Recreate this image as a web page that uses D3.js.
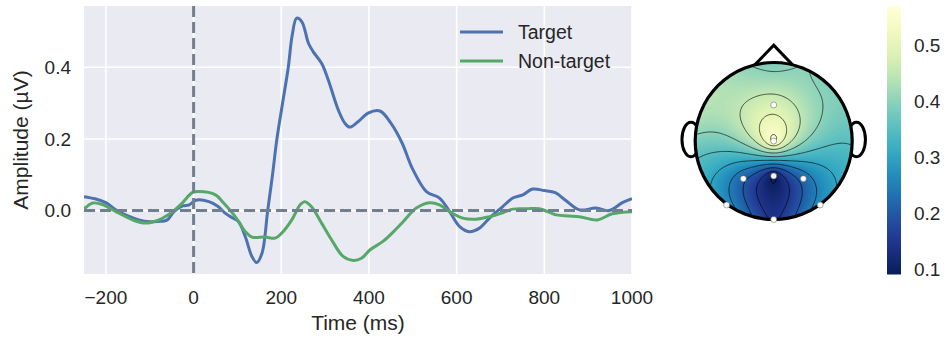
<!DOCTYPE html>
<html>
<head>
<meta charset="utf-8">
<script src="https://cdn.jsdelivr.net/npm/d3@7"></script>
<style>
  body { margin: 0; background: #fff; }
  text { font-family: "Liberation Sans", Arial, sans-serif; fill: #262626; }
</style>
</head>
<body>
<svg id="fig" width="948" height="340"></svg>
<script>
// ERP traces (ms, µV)
const targetTimes = [-250,-225,-200,-175,-150,-125,-100,-75,-60,-45,-25,-10,5,35,55,72,88,102,118,133,144,156,169,180,190,203,216,225,235,247,262,273,292,307,330,345,356,375,398,425,450,475,500,531,561,584,607,629,652,675,705,728,751,773,800,825,849,880,918,948,978,1000]
const targetValues = [0.039,0.033,0.022,0.0,-0.015,-0.026,-0.031,-0.030,-0.026,-0.003,0.013,0.016,0.029,0.025,0.012,-0.007,-0.02,-0.03,-0.073,-0.128,-0.145,-0.119,0.0,0.1,0.2,0.3,0.4,0.49,0.537,0.527,0.467,0.443,0.411,0.365,0.281,0.244,0.233,0.248,0.272,0.278,0.244,0.19,0.115,0.053,0.035,-0.003,-0.045,-0.059,-0.049,-0.021,0.011,0.035,0.044,0.06,0.056,0.05,0.028,0.002,0.007,0.0,0.022,0.033]
const nonTargetTimes = [-250,-230,-208,-177,-139,-109,-79,-48,-26,-3,12,50,67,95,118,133,163,186,201,224,243,254,269,292,315,341,364,383,402,432,455,478,508,538,561,584,614,645,675,705,728,760,789,827,855,880,921,955,1000]
const nonTargetValues = [0.004,0.021,0.017,-0.003,-0.026,-0.035,-0.026,-0.003,0.021,0.05,0.053,0.044,0.023,-0.017,-0.059,-0.074,-0.074,-0.077,-0.063,-0.026,0.016,0.025,0.011,-0.035,-0.082,-0.128,-0.139,-0.133,-0.11,-0.086,-0.06,-0.031,0.007,0.022,0.016,-0.003,-0.021,-0.024,-0.017,-0.006,0.004,0.005,0.005,-0.012,-0.015,-0.017,-0.026,-0.009,-0.003]
const seriesNames = ['Target', 'Non-target']
const xTicks = [-200, 0, 200, 400, 600, 800, 1000]
const yTicks = [0.0, 0.2, 0.4]

// topomap: channel layout (unit head circle) and amplitudes
const channelNames = ['Fz', 'Cz', 'P3', 'Pz', 'P4', 'PO7', 'Oz', 'PO8']
const channelX = [0, 0, -0.387, 0, 0.378, -0.599, 0, 0.592]
const channelY = [0.459, 0.0, -0.48, -0.446, -0.48, -0.815, -1.0, -0.815]
const channelValues = [0.48, 0.568, 0.21, 0.091, 0.22, 0.27, 0.14, 0.27]
// values read just outside the head border (degrees clockwise from nose)
const borderAngles = [0, 40, 70, 100, 125, 155, 205, 235, 260, 290, 320, 340]
const borderValues = [0.38, 0.39, 0.38, 0.34, 0.31, 0.26, 0.26, 0.31, 0.36, 0.44, 0.43, 0.40]
const colorbarTicks = [0.1, 0.2, 0.3, 0.4, 0.5]

const svg = d3.select('#fig')
const blue = '#4C72B0', green = '#55A868'

// ---------- ERP panel ----------
const x = d3.scaleLinear().domain([-250, 1000]).range([84, 632])
const y = d3.scaleLinear().domain([-0.177, 0.571]).range([274, 6])

svg.append('rect')
  .attr('x', x.range()[0]).attr('y', y.range()[1])
  .attr('width', x.range()[1] - x.range()[0])
  .attr('height', y.range()[0] - y.range()[1])
  .attr('fill', '#EAEAF2')

svg.append('defs').append('clipPath').attr('id', 'plotclip')
  .append('rect')
  .attr('x', x.range()[0]).attr('y', y.range()[1])
  .attr('width', x.range()[1] - x.range()[0])
  .attr('height', y.range()[0] - y.range()[1])

const grid = svg.append('g').attr('stroke', '#fff').attr('stroke-width', 1.6)
grid.selectAll('.vx').data(xTicks).join('line')
  .attr('x1', d => x(d)).attr('x2', d => x(d))
  .attr('y1', y.range()[1]).attr('y2', y.range()[0])
grid.selectAll('.hy').data(yTicks).join('line')
  .attr('x1', x.range()[0]).attr('x2', x.range()[1])
  .attr('y1', d => y(d)).attr('y2', d => y(d))

const fmtX = d3.format('d')
svg.append('g').selectAll('text').data(xTicks).join('text')
  .attr('x', d => x(d)).attr('y', 303.5)
  .attr('text-anchor', 'middle').style('font-size', '19px')
  .text(d => fmtX(d))
svg.append('g').selectAll('text').data(yTicks).join('text')
  .attr('x', 71).attr('y', d => y(d) + 6.8)
  .attr('text-anchor', 'end').style('font-size', '19px')
  .text(d => d.toFixed(1))

svg.append('text').attr('x', 358).attr('y', 330)
  .attr('text-anchor', 'middle').style('font-size', '21px')
  .text('Time (ms)')
svg.append('text')
  .attr('transform', 'translate(28,140) rotate(-90)')
  .attr('text-anchor', 'middle').style('font-size', '21px')
  .text('Amplitude (µV)')

const line = d3.line().x(d => x(d[0])).y(d => y(d[1])).curve(d3.curveCatmullRom.alpha(0.5))
const series = [
  { name: seriesNames[0], color: blue, pts: d3.zip(targetTimes, targetValues) },
  { name: seriesNames[1], color: green, pts: d3.zip(nonTargetTimes, nonTargetValues) }
]
svg.append('g').attr('clip-path', 'url(#plotclip)')
  .selectAll('path').data(series).join('path')
  .attr('d', d => line(d.pts))
  .attr('fill', 'none').attr('stroke', d => d.color)
  .attr('stroke-width', 3).attr('stroke-linejoin', 'round')

// dashed zero lines
const dash = svg.append('g').attr('stroke', '#708090').attr('stroke-width', 3)
  .attr('stroke-dasharray', '11,5')
dash.append('line').attr('x1', x.range()[0]).attr('x2', x.range()[1]).attr('y1', y(0)).attr('y2', y(0))
dash.append('line').attr('x1', x(0)).attr('x2', x(0)).attr('y1', y.range()[1]).attr('y2', y.range()[0])

// legend
const leg = svg.append('g').selectAll('g').data(series).join('g')
  .attr('transform', (d, i) => `translate(460,${32 + i * 29})`)
leg.append('line').attr('x1', 0).attr('x2', 43)
  .attr('stroke', d => d.color).attr('stroke-width', 3)
leg.append('text').attr('x', 58).attr('y', 7)
  .style('font-size', '19.5px').text(d => d.name)

// ---------- topomap ----------
const cx = 773.7, cy = 141, R = 78.5
const vmin = d3.min(channelValues), vmax = d3.max(channelValues)
const color = d3.scaleSequential(t => d3.interpolateYlGnBu(1 - t)).domain([vmin, vmax]).clamp(true)

// interpolation nodes: channels + border anchors
const nodes = channelX.map((cxv, i) => [cxv, channelY[i], channelValues[i]])
borderAngles.forEach((a, i) => {
  const r = a * Math.PI / 180
  nodes.push([1.06 * Math.sin(r), 1.06 * Math.cos(r), borderValues[i]])
})
// linear radial basis interpolation
const n = nodes.length
const A = nodes.map(p => nodes.map(q => Math.hypot(p[0] - q[0], p[1] - q[1])))
const b = nodes.map(p => p[2])
for (let c = 0; c < n; c++) {
  let piv = c
  for (let r = c + 1; r < n; r++) if (Math.abs(A[r][c]) > Math.abs(A[piv][c])) piv = r
  ;[A[c], A[piv]] = [A[piv], A[c]]; [b[c], b[piv]] = [b[piv], b[c]]
  for (let r = 0; r < n; r++) {
    if (r === c) continue
    const f = A[r][c] / A[c][c]
    for (let k = c; k < n; k++) A[r][k] -= f * A[c][k]
    b[r] -= f * b[c]
  }
}
const w = b.map((v, i) => v / A[i][i])
const field = (u, v) => d3.sum(nodes, (p, i) => w[i] * Math.hypot(u - p[0], v - p[1]))

const N = 150, ext = 1.03
const cell = 2 * ext * R / N
const gridVals = new Array(N * N)
for (let j = 0; j < N; j++) for (let i = 0; i < N; i++) {
  const u = -ext + (i + 0.5) * 2 * ext / N
  const v = ext - (j + 0.5) * 2 * ext / N
  gridVals[j * N + i] = field(u, v)
}
const toPx = d3.geoTransform({
  point(px, py) { this.stream.point(cx - ext * R + px * cell, cy - ext * R + py * cell) }
})
const gpath = d3.geoPath(toPx)

const defs = svg.select('defs')
defs.append('clipPath').attr('id', 'headclip')
  .append('circle').attr('cx', cx).attr('cy', cy).attr('r', R)

const hx = d3.scaleLinear().domain([-1, 1]).range([cx - R, cx + R])
const hy = d3.scaleLinear().domain([-1, 1]).range([cy + R, cy - R])

const head = svg.append('g')
// ears
head.selectAll('ellipse').data([-1, 1]).join('ellipse')
  .attr('cx', d => hx(d * 1.054)).attr('cy', hy(0.02))
  .attr('rx', 9).attr('ry', 17.3)
  .attr('fill', '#fff').attr('stroke', '#000').attr('stroke-width', 3)
// nose
head.append('path')
  .attr('d', d3.line().x(d => hx(d[0])).y(d => hy(d[1]))([[-0.25, 0.96], [0, 1.22], [0.25, 0.96]]))
  .attr('fill', '#fff').attr('stroke', '#000').attr('stroke-width', 3).attr('stroke-linejoin', 'miter')

const img = head.append('g').attr('clip-path', 'url(#headclip)')
img.append('circle').attr('cx', cx).attr('cy', cy).attr('r', R).attr('fill', color(vmin))
const fillLevels = d3.range(vmin - 0.08, vmax + 0.08, 0.004)
img.selectAll('path.band')
  .data(d3.contours().size([N, N]).thresholds(fillLevels)(gridVals))
  .join('path').attr('class', 'band')
  .attr('d', gpath).attr('fill', d => color(d.value + 0.002))
img.selectAll('path.iso')
  .data(d3.contours().size([N, N]).thresholds(d3.ticks(0.1, 0.55, 10))(gridVals))
  .join('path').attr('class', 'iso')
  .attr('d', gpath).attr('fill', 'none')
  .attr('stroke', '#000').attr('stroke-opacity', 0.7).attr('stroke-width', 0.9)

head.append('circle').attr('cx', cx).attr('cy', cy).attr('r', R)
  .attr('fill', 'none').attr('stroke', '#000').attr('stroke-width', 3.2)

head.selectAll('circle.sensor').data(channelNames).join('circle').attr('class', 'sensor')
  .attr('cx', (d, i) => hx(channelX[i])).attr('cy', (d, i) => hy(channelY[i]))
  .attr('r', 3).attr('fill', '#fff').attr('stroke', '#555').attr('stroke-width', 0.5)

// ---------- colorbar ----------
const cb = d3.scaleLinear().domain([vmin, vmax]).range([274.5, 6.5])
const grad = defs.append('linearGradient').attr('id', 'cbgrad')
  .attr('x1', 0).attr('x2', 0).attr('y1', 1).attr('y2', 0)
grad.selectAll('stop').data(d3.range(0, 1.0001, 0.05)).join('stop')
  .attr('offset', d => d)
  .attr('stop-color', d => color(vmin + d * (vmax - vmin)))
svg.append('rect').attr('x', 887).attr('y', cb.range()[1])
  .attr('width', 14).attr('height', cb.range()[0] - cb.range()[1])
  .attr('fill', 'url(#cbgrad)')
svg.append('g').selectAll('text').data(colorbarTicks).join('text')
  .attr('x', 914).attr('y', d => cb(d) + 6.8)
  .style('font-size', '19px').text(d => d.toFixed(1))
</script>
</body>
</html>
